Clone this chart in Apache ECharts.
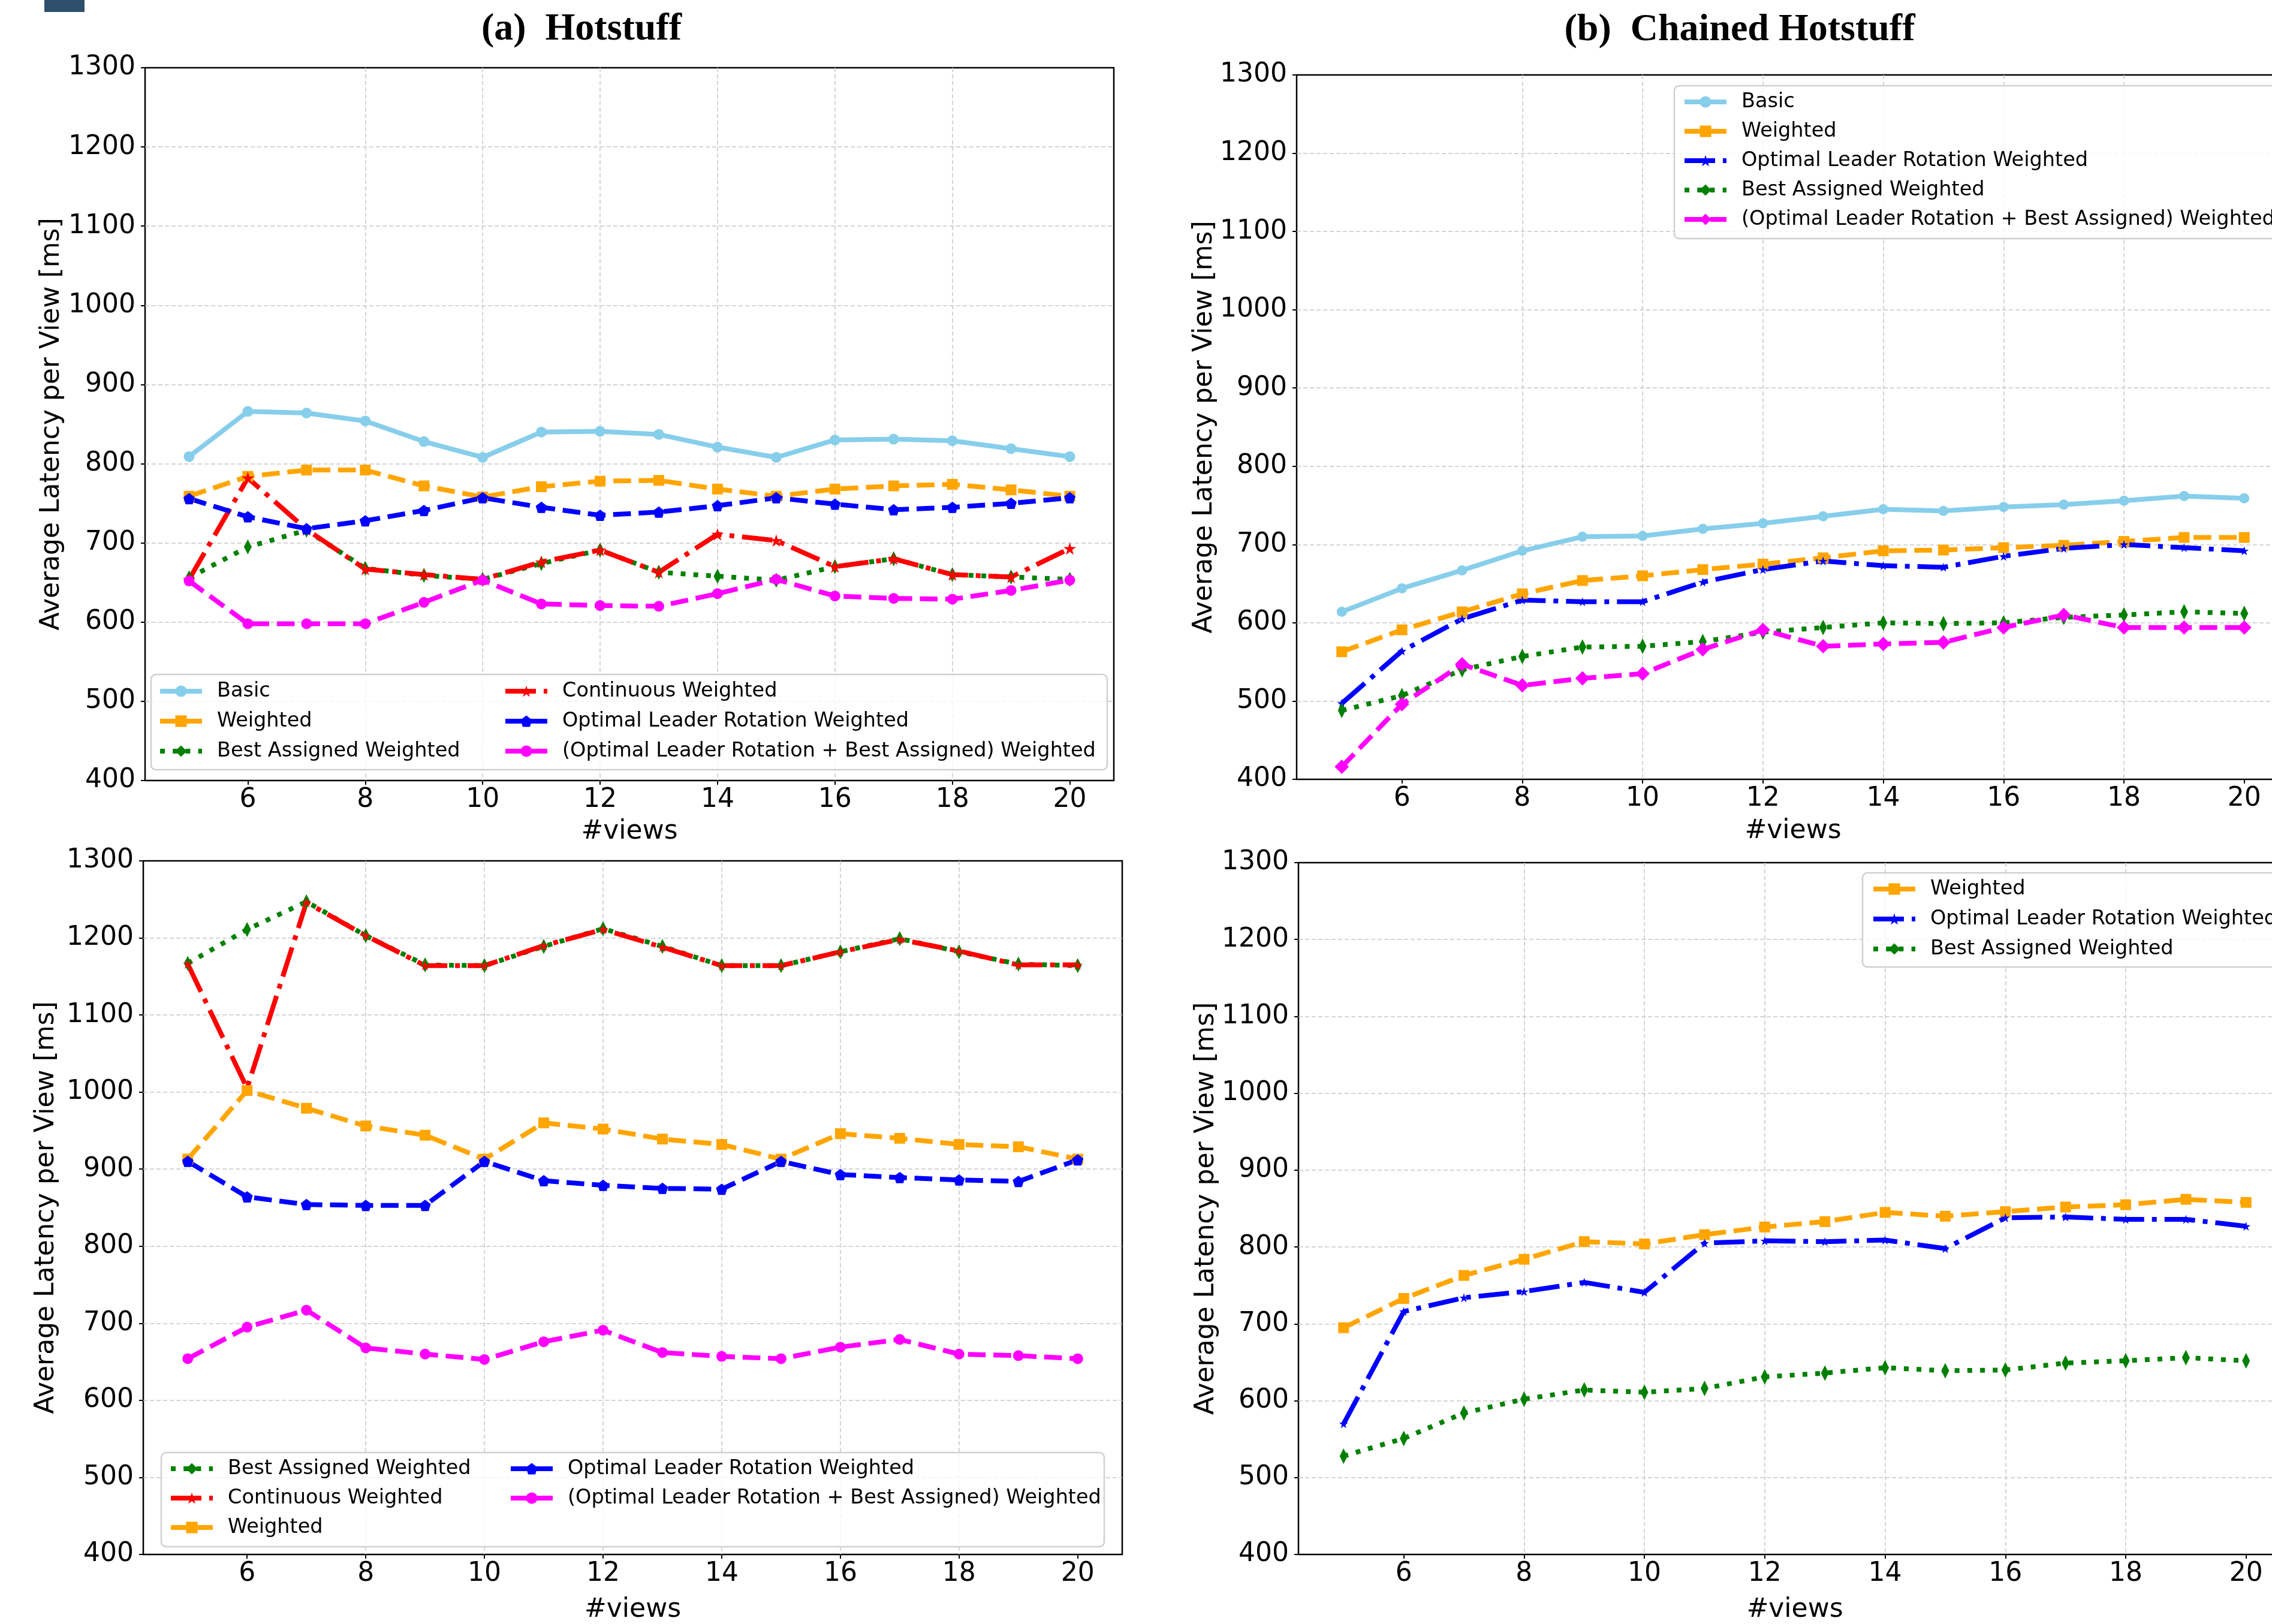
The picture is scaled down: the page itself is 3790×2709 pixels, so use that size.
<!DOCTYPE html>
<html>
<head>
<meta charset="utf-8">
<script src="https://cdn.jsdelivr.net/npm/echarts@6/dist/echarts.min.js"></script>
<style>
  html, body { margin: 0; padding: 0; background: #fff; overflow: hidden; }
  #wrap { width: 3790px; height: 2709px; overflow: hidden; position: relative; }
  #chart { width: 3900px; height: 2709px; position: absolute; left: 0; top: 0; }
</style>
</head>
<body>
<div id="wrap"><div id="chart"></div></div>
<script>
// x values (#views) and axis ticks
const views = [5, 6, 7, 8, 9, 10, 11, 12, 13, 14, 15, 16, 17, 18, 19, 20];
const xTicks = [6, 8, 10, 12, 14, 16, 18, 20];

// (a) Hotstuff, top
const aBasic        = [809, 866, 864, 854, 828, 808, 840, 841, 837, 821, 808, 830, 831, 829, 819, 809];
const aWeighted     = [759, 784, 792, 792, 772, 758, 771, 778, 779, 768, 759, 768, 772, 774, 767, 759];
const aBestAssigned = [656, 695, 716, 668, 659, 654, 674, 691, 663, 658, 653, 670, 680, 660, 657, 654];
const aContinuous   = [654, 782, 717, 667, 660, 654, 676, 691, 663, 711, 703, 670, 680, 660, 657, 693];
const aOptRotation  = [756, 733, 718, 728, 741, 757, 745, 735, 739, 747, 757, 749, 742, 745, 750, 757];
const aOptBest      = [652, 598, 598, 598, 625, 653, 623, 621, 620, 636, 654, 633, 630, 629, 640, 653];

// (b) Chained Hotstuff, top
const bBasic        = [614, 644, 667, 692, 710, 711, 720, 727, 736, 745, 743, 748, 751, 756, 762, 759];
const bWeighted     = [563, 591, 614, 637, 654, 660, 668, 675, 683, 692, 693, 696, 699, 704, 709, 709];
const bOptRotation  = [497, 564, 605, 629, 627, 627, 652, 668, 679, 673, 671, 685, 695, 700, 696, 692];
const bBestAssigned = [488, 507, 540, 557, 569, 570, 576, 588, 594, 600, 599, 600, 607, 610, 614, 612];
const bOptBest      = [416, 496, 547, 520, 529, 535, 566, 591, 570, 573, 575, 594, 610, 594, 594, 594];

// (a) Hotstuff, bottom
const cBestAssigned = [1167, 1211, 1247, 1203, 1165, 1164, 1189, 1212, 1189, 1164, 1164, 1182, 1199, 1182, 1166, 1164];
const cContinuous   = [1166, 1005, 1246, 1203, 1164, 1164, 1190, 1211, 1188, 1164, 1164, 1182, 1198, 1183, 1165, 1165];
const cWeighted     = [913, 1002, 979, 956, 944, 913, 960, 952, 939, 932, 913, 946, 940, 932, 929, 913];
const cOptRotation  = [910, 864, 854, 853, 853, 910, 885, 879, 875, 874, 910, 893, 889, 886, 884, 912];
const cOptBest      = [654, 695, 717, 668, 660, 653, 676, 691, 662, 657, 654, 669, 679, 660, 658, 654];

// (b) Chained Hotstuff, bottom
const dWeighted     = [695, 733, 763, 784, 807, 804, 816, 826, 833, 845, 840, 846, 852, 855, 862, 858];
const dOptRotation  = [570, 716, 734, 742, 754, 741, 805, 808, 807, 809, 798, 838, 839, 836, 836, 827];
const dBestAssigned = [528, 551, 584, 602, 614, 611, 616, 631, 636, 643, 639, 640, 649, 652, 656, 652];

const FONT = 'DejaVu Sans';
const LW = 8;
const DASH = [29.6, 12.8], DASHDOT = [51, 13, 8, 13], DOT = [8, 13.2];
const STAR = 'path://M0,-100L22.45,-30.9L95.1,-30.9L36.33,11.8L58.8,80.9L0,38.2L-58.8,80.9L-36.33,11.8L-95.1,-30.9L-22.45,-30.9Z';
const PENTA = 'path://M0,-100L95.1,-30.9L58.8,80.9L-58.8,80.9L-95.1,-30.9Z';

const chart = echarts.init(document.getElementById('chart'));

// panel boxes (pixels); the right column runs past the page edge, as in the source figure
const grids = [
    { left: 242, top: 113, width: 1616, height: 1189 },
    { left: 2163, top: 125, width: 1656, height: 1175 },
    { left: 239, top: 1436, width: 1633, height: 1161 },
    { left: 2166, top: 1439, width: 1656, height: 1175 }
];
const xNameGaps = [64, 65, 71, 71];
const yNameGaps = [133, 131, 139, 130];

function xAxis(i) {
    return {
        type: 'value', gridIndex: i, min: 4.25, max: 20.75,
        name: '#views', nameLocation: 'middle', nameGap: xNameGaps[i],
        nameTextStyle: { fontSize: 44, fontFamily: FONT, color: '#000' },
        axisLine: { show: false },
        axisTick: { show: true, inside: false, length: 7, customValues: xTicks, lineStyle: { color: '#000', width: 2 } },
        axisLabel: { fontSize: 44, fontFamily: FONT, color: '#000', margin: 11, customValues: xTicks },
        splitLine: { show: true, showMinLine: false, showMaxLine: false, lineStyle: { color: '#c8c8c8', width: 1.5, type: [7, 4] } }
    };
}
function yAxis(i) {
    return {
        type: 'value', gridIndex: i, min: 400, max: 1300, interval: 100,
        name: 'Average Latency per View [ms]', nameLocation: 'middle', nameGap: yNameGaps[i],
        nameTextStyle: { fontSize: 44, fontFamily: FONT, color: '#000' },
        axisLine: { show: false },
        axisTick: { show: true, inside: false, length: 7, lineStyle: { color: '#000', width: 2 } },
        axisLabel: { fontSize: 44, fontFamily: FONT, color: '#000', margin: 16, formatter: v => String(v) },
        splitLine: { show: true, showMinLine: false, showMaxLine: false, lineStyle: { color: '#c8c8c8', width: 1.5, type: [7, 4] } }
    };
}

function line(panel, name, values, color, dash, symbol, size) {
    return {
        type: 'line', name: panel + '|' + name,
        xAxisIndex: 'abcd'.indexOf(panel), yAxisIndex: 'abcd'.indexOf(panel),
        data: views.map((v, k) => [v, values[k]]),
        symbol: symbol, symbolSize: size,
        itemStyle: { color: color },
        lineStyle: { color: color, width: LW, type: dash, join: 'round' },
        emphasis: { disabled: true }
    };
}

const series = [
    line('a', 'Basic', aBasic, '#87ceeb', 'solid', 'circle', 18),
    line('a', 'Weighted', aWeighted, '#ffa500', DASH, 'rect', 18),
    line('a', 'Best Assigned Weighted', aBestAssigned, '#008000', DOT, 'diamond', [13, 25]),
    line('a', 'Continuous Weighted', aContinuous, '#ff0000', DASHDOT, STAR, 21),
    line('a', 'Optimal Leader Rotation Weighted', aOptRotation, '#0000ff', DASH, PENTA, 19),
    line('a', '(Optimal Leader Rotation + Best Assigned) Weighted', aOptBest, '#ff00ff', DASH, 'circle', 18),

    line('b', 'Basic', bBasic, '#87ceeb', 'solid', 'circle', 17),
    line('b', 'Weighted', bWeighted, '#ffa500', DASH, 'rect', 18),
    line('b', 'Optimal Leader Rotation Weighted', bOptRotation, '#0000ff', DASHDOT, STAR, 15),
    line('b', 'Best Assigned Weighted', bBestAssigned, '#008000', DOT, 'diamond', [13, 26]),
    line('b', '(Optimal Leader Rotation + Best Assigned) Weighted', bOptBest, '#ff00ff', DASH, 'diamond', 24),

    line('c', 'Best Assigned Weighted', cBestAssigned, '#008000', DOT, 'diamond', [13, 25]),
    line('c', 'Continuous Weighted', cContinuous, '#ff0000', DASHDOT, STAR, 16),
    line('c', 'Weighted', cWeighted, '#ffa500', DASH, 'rect', 18),
    line('c', 'Optimal Leader Rotation Weighted', cOptRotation, '#0000ff', DASH, PENTA, 19),
    line('c', '(Optimal Leader Rotation + Best Assigned) Weighted', cOptBest, '#ff00ff', DASH, 'circle', 18),

    line('d', 'Weighted', dWeighted, '#ffa500', DASH, 'rect', 18),
    line('d', 'Optimal Leader Rotation Weighted', dOptRotation, '#0000ff', DASHDOT, STAR, 15),
    line('d', 'Best Assigned Weighted', dBestAssigned, '#008000', DOT, 'diamond', [13, 26])
];

function legend(left, top, gap, names) {
    return {
        orient: 'vertical', left: left, top: top, padding: 0, itemGap: gap,
        itemWidth: 70, itemHeight: 24, selectedMode: false, z: 5,
        data: names,
        formatter: n => n.split('|')[1],
        lineStyle: { width: LW },
        textStyle: { fontSize: 33.5, fontFamily: FONT, color: '#000', lineHeight: 34, padding: [0, 0, 0, 20] }
    };
}
const P = (p, arr) => arr.map(n => p + '|' + n);

function frame(x, y, w, h) {
    return {
        type: 'rect', z: 4, silent: true,
        shape: { x: x, y: y, width: w, height: h, r: 8 },
        style: { fill: 'rgba(255,255,255,0.8)', stroke: '#d0d0d0', lineWidth: 2.5 }
    };
}

chart.setOption({
    backgroundColor: '#fff',
    animation: false,
    grid: grids.map(g => Object.assign({ show: true, borderColor: '#000', borderWidth: 2.5 }, g)),
    xAxis: [0, 1, 2, 3].map(xAxis),
    yAxis: [0, 1, 2, 3].map(yAxis),
    legend: [
        legend(263, 1136, 16, P('a', ['Basic', 'Weighted', 'Best Assigned Weighted'])),
        legend(839, 1136, 16, P('a', ['Continuous Weighted', 'Optimal Leader Rotation Weighted', '(Optimal Leader Rotation + Best Assigned) Weighted'])),
        legend(2806, 153, 15, P('b', ['Basic', 'Weighted', 'Optimal Leader Rotation Weighted', 'Best Assigned Weighted', '(Optimal Leader Rotation + Best Assigned) Weighted'])),
        legend(281, 2433, 15, P('c', ['Best Assigned Weighted', 'Continuous Weighted', 'Weighted'])),
        legend(848, 2433, 15, P('c', ['Optimal Leader Rotation Weighted', '(Optimal Leader Rotation + Best Assigned) Weighted'])),
        legend(3121, 1466, 16, P('d', ['Weighted', 'Optimal Leader Rotation Weighted', 'Best Assigned Weighted']))
    ],
    graphic: [
        { type: 'rect', left: 74, top: 0, shape: { width: 67, height: 20 }, style: { fill: '#2d4f6c' } },
        { type: 'text', x: 970, y: 49, style: { text: '(a)  Hotstuff', font: 'bold 64px "Liberation Serif"', fill: '#000', textAlign: 'center', textVerticalAlign: 'middle' } },
        { type: 'text', x: 2902, y: 50, style: { text: '(b)  Chained Hotstuff', font: 'bold 64px "Liberation Serif"', fill: '#000', textAlign: 'center', textVerticalAlign: 'middle' } },
        frame(252, 1125, 1595, 159),
        frame(2793, 143, 1100, 255),
        frame(269, 2423, 1573, 157),
        frame(3107, 1456, 800, 157)
    ],
    series: series
});
</script>
</body>
</html>
